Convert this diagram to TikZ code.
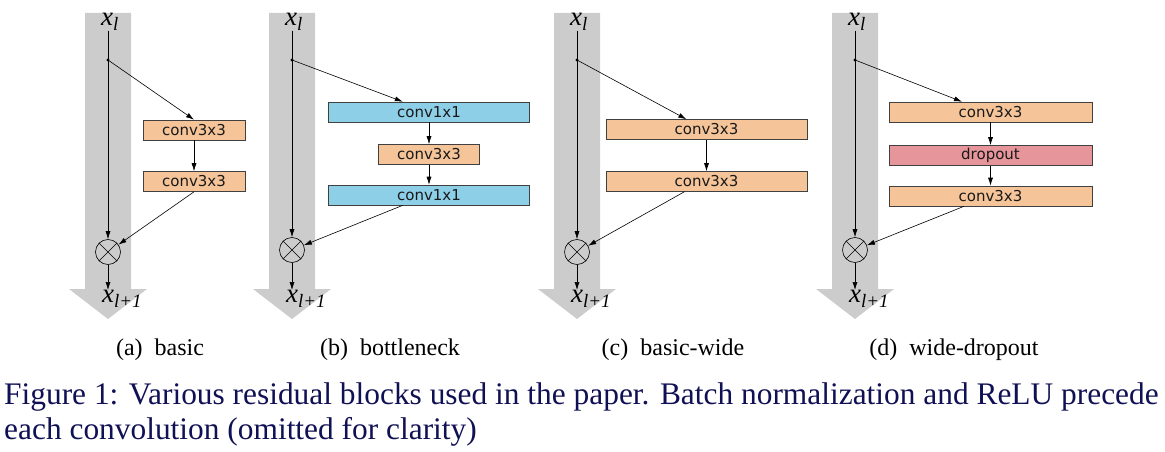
\documentclass[tikz,border=0pt]{standalone}
\usepackage{fontspec}
\setmainfont{Liberation Serif}
\newfontfamily\boxfont{DejaVu Sans}
\usetikzlibrary{arrows.meta,calc}

\definecolor{convorange}{RGB}{245,196,152}
\definecolor{convblue}{RGB}{142,207,232}
\definecolor{droppink}{RGB}{230,150,154}
\definecolor{bandgray}{RGB}{204,204,204}
\definecolor{capblue}{RGB}{16,16,84}

\tikzset{
	lay/.style={draw=black!75, line width=0.6pt, minimum height=20pt, inner sep=0pt, font=\boxfont\fontsize{15}{15}\selectfont, text=black!90},
	conv/.style={lay, fill=convorange},
	onebyone/.style={lay, fill=convblue},
	drop/.style={lay, fill=droppink},
	flow/.style={-{Latex[length=8pt,width=5pt]}, line width=0.6pt},
	mult/.style={circle, draw, line width=0.6pt, minimum size=25pt, inner sep=0pt},
	xlab/.style={font=\fontsize{27}{27}\selectfont\itshape, inner sep=0pt},
	subcap/.style={font=\fontsize{24}{24}\selectfont}
}

\begin{document}
\begin{tikzpicture}[x=1pt,y=-1pt]
	\useasboundingbox (0,0) rectangle (1165,452);
	% grey identity paths
	\foreach \c in {108,292,577,855}
		\fill[bandgray] (\c-23,13) -- (\c+23,13) -- (\c+23,289) -- (\c+39,289) -- (\c,319) -- (\c-39,289) -- (\c-23,289) -- cycle;

	% (a) basic
	\node[xlab] (xa) at (110,22) {x\textsubscript{l}};
	\coordinate (da) at (108,60);
	\node[conv, minimum width=102pt] (a1) at (194,130) {conv3x3};
	\node[conv, minimum width=102pt] (a2) at (194,181.5) {conv3x3};
	\node[mult] (ma) at (108,252) {};
	\node[xlab, anchor=north west] (ya) at (102,290) {x\textsubscript{l+1}};
	\draw[flow] (xa.south -| ma) -- (ma);
	\fill (da) circle (1.6);
	\draw[flow] (da) -- (a1.north);
	\draw[flow] (a1) -- (a2);
	\draw[flow] (a2.south) -- (ma);
	\draw[flow] (ma) -- (ma |- ya.north);
	\draw (ma.north east) -- (ma.south west) (ma.north west) -- (ma.south east);

	% (b) bottleneck
	\node[xlab] (xb) at (294,22) {x\textsubscript{l}};
	\coordinate (db) at (292,60);
	\node[onebyone, minimum width=201pt] (b1) at (429,112) {conv1x1};
	\node[conv, minimum width=101pt] (b2) at (429,154.5) {conv3x3};
	\node[onebyone, minimum width=201pt] (b3) at (429,195) {conv1x1};
	\node[mult] (mb) at (292,250) {};
	\node[xlab, anchor=north west] (yb) at (286,290) {x\textsubscript{l+1}};
	\draw[flow] (xb.south -| mb) -- (mb);
	\fill (db) circle (1.6);
	\draw[flow] (db) -- ($(b1.north west)!0.37!(b1.north east)$);
	\draw[flow] (b1) -- (b2);
	\draw[flow] (b2) -- (b3);
	\draw[flow] ($(b3.south west)!0.37!(b3.south east)$) -- (mb);
	\draw[flow] (mb) -- (mb |- yb.north);
	\draw (mb.north east) -- (mb.south west) (mb.north west) -- (mb.south east);

	% (c) basic-wide
	\node[xlab] (xc) at (579,22) {x\textsubscript{l}};
	\coordinate (dc) at (577,60);
	\node[conv, minimum width=201pt] (c1) at (706.5,129.5) {conv3x3};
	\node[conv, minimum width=201pt] (c2) at (706.5,181.5) {conv3x3};
	\node[mult] (mc) at (577,252) {};
	\node[xlab, anchor=north west] (yc) at (571,290) {x\textsubscript{l+1}};
	\draw[flow] (xc.south -| mc) -- (mc);
	\fill (dc) circle (1.6);
	\draw[flow] (dc) -- ($(c1.north west)!0.4!(c1.north east)$);
	\draw[flow] (c1) -- (c2);
	\draw[flow] ($(c2.south west)!0.39!(c2.south east)$) -- (mc);
	\draw[flow] (mc) -- (mc |- yc.north);
	\draw (mc.north east) -- (mc.south west) (mc.north west) -- (mc.south east);

	% (d) wide-dropout
	\node[xlab] (xd) at (857,22) {x\textsubscript{l}};
	\coordinate (dd) at (855,60);
	\node[conv, minimum width=203pt] (d1) at (990.5,112) {conv3x3};
	\node[drop, minimum width=203pt] (d2) at (990.5,155.5) {dropout};
	\node[conv, minimum width=203pt] (d3) at (990.5,196) {conv3x3};
	\node[mult] (md) at (855,250) {};
	\node[xlab, anchor=north west] (yd) at (849,290) {x\textsubscript{l+1}};
	\draw[flow] (xd.south -| md) -- (md);
	\fill (dd) circle (1.6);
	\draw[flow] (dd) -- ($(d1.north west)!0.36!(d1.north east)$);
	\draw[flow] (d1) -- (d2);
	\draw[flow] (d2) -- (d3);
	\draw[flow] ($(d3.south west)!0.37!(d3.south east)$) -- (md);
	\draw[flow] (md) -- (md |- yd.north);
	\draw (md.north east) -- (md.south west) (md.north west) -- (md.south east);

	% sub-captions
	\node[subcap] (sa) at (160,350) {(a)\enspace basic};
	\node[subcap] (sb) at (390,350) {(b)\enspace bottleneck};
	\node[subcap] (sc) at (673,350) {(c)\enspace basic-wide};
	\node[subcap] (sd) at (954,350) {(d)\enspace wide-dropout};

	% figure caption
	\node[anchor=base west, inner sep=0pt, text=capblue, font=\fontsize{31.4}{35}\selectfont] (cap1) at (4,404) {Figure 1: Various residual blocks used in the paper. Batch normalization and ReLU precede};
	\node[anchor=base west, inner sep=0pt, text=capblue, font=\fontsize{31.4}{35}\selectfont] (cap2) at (4,439) {each convolution (omitted for clarity)};
\end{tikzpicture}
\end{document}
